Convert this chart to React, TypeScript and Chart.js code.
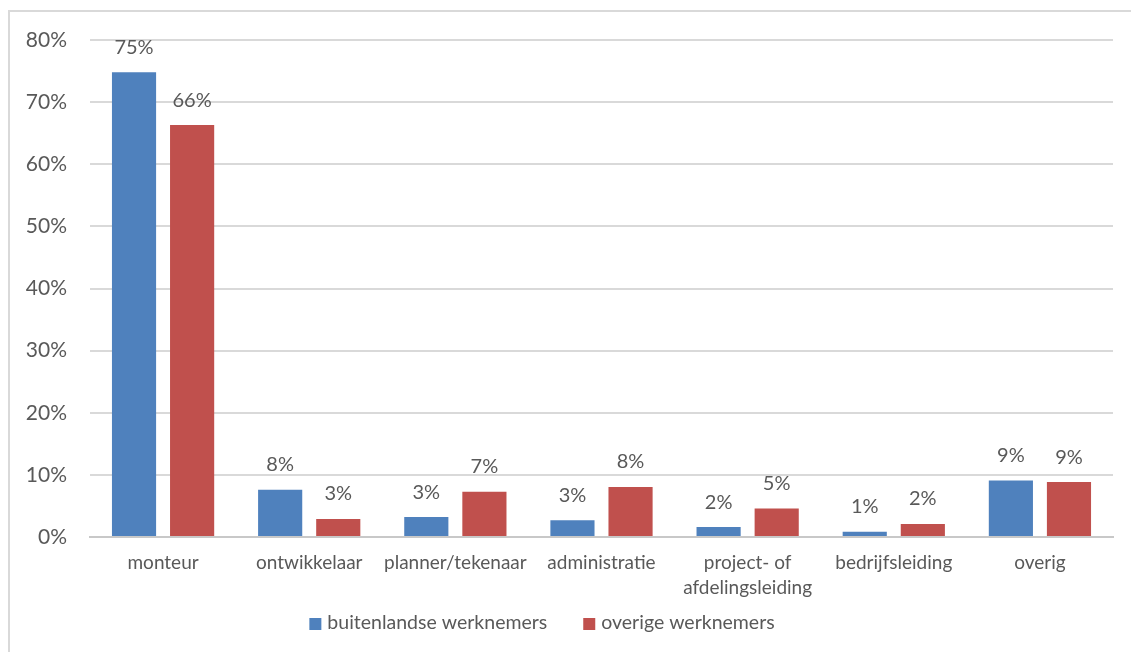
import React, { useEffect, useRef } from "react";
import { Chart, registerables } from "chart.js";

Chart.register(...registerables);

const categories: (string | string[])[] = [
  "monteur",
  "ontwikkelaar",
  "planner/tekenaar",
  "administratie",
  ["project- of", "afdelingsleiding"],
  "bedrijfsleiding",
  "overig",
];
const buitenlandse = [74.8, 7.6, 3.2, 2.7, 1.6, 0.85, 9.1];
const overige = [66.3, 2.9, 7.3, 8.05, 4.6, 2.1, 8.85];
const seriesNames = ["buitenlandse werknemers", "overige werknemers"];
const yTicks = [0, 10, 20, 30, 40, 50, 60, 70, 80];

const FONT = "Lato, sans-serif";
const TEXT = "#595959";

const labelPlugin = {
  id: "barLabels",
  afterDatasetsDraw(chart: any) {
    const ctx = chart.ctx;
    ctx.save();
    ctx.font = `20px ${FONT}`;
    ctx.fillStyle = TEXT;
    ctx.textAlign = "center";
    ctx.textBaseline = "alphabetic";
    chart.data.datasets.forEach((ds: any, di: number) => {
      const meta = chart.getDatasetMeta(di);
      meta.data.forEach((bar: any, i: number) => {
        const v = ds.data[i] as number;
        ctx.fillText(`${Math.round(v)}%`, bar.x, bar.y - 18.5);
      });
    });
    ctx.restore();
  },
};

const legendPlugin = {
  id: "customLegend",
  afterDraw(chart: any) {
    const ctx = chart.ctx;
    ctx.save();
    ctx.font = `19.5px ${FONT}`;
    const box = 12;
    const gapText = 6;
    const gapItem = 36;
    const ds = chart.data.datasets;
    const widths = ds.map((d: any) => ctx.measureText(d.label).width);
    let total = 0;
    widths.forEach((w: number, i: number) => {
      total += box + gapText + w + (i < widths.length - 1 ? gapItem : 0);
    });
    const cx = 532;
    const cy = 611;
    let x = cx - total / 2;
    ds.forEach((d: any, i: number) => {
      ctx.fillStyle = d.backgroundColor;
      ctx.fillRect(x, cy - box / 2 + 1, box, box);
      x += box + gapText;
      ctx.fillStyle = TEXT;
      ctx.textAlign = "left";
      ctx.textBaseline = "middle";
      ctx.fillText(d.label, x, cy);
      x += widths[i] + gapItem;
    });
    ctx.restore();
  },
};

export default function App() {
  const ref = useRef<HTMLCanvasElement | null>(null);

  useEffect(() => {
    if (!ref.current) return;
    const chart = new Chart(ref.current, {
      type: "bar",
      data: {
        labels: categories,
        datasets: [
          {
            label: seriesNames[0],
            data: buitenlandse,
            backgroundColor: "#4f81bd",
            barPercentage: 0.76,
            categoryPercentage: 0.795,
          },
          {
            label: seriesNames[1],
            data: overige,
            backgroundColor: "#c0504d",
            barPercentage: 0.76,
            categoryPercentage: 0.795,
          },
        ],
      },
      options: {
        animation: false,
        responsive: false,
        maintainAspectRatio: false,
        layout: { padding: { left: 0, right: 18, top: 28, bottom: 0 } },
        plugins: {
          legend: { display: false },
          tooltip: { enabled: false },
        },
        scales: {
          x: {
            grid: { display: false, drawTicks: false },
            border: { display: true, color: "#c8c8c8", width: 2 },
            ticks: {
              color: TEXT,
              font: { family: FONT, size: 19, lineHeight: 1.3 },
              padding: 14,
              maxRotation: 0,
              autoSkip: false,
            },
            afterFit(scale: any) {
              scale.height = 115;
            },
          },
          y: {
            min: 0,
            max: 80,
            afterBuildTicks(scale: any) {
              scale.ticks = yTicks.map((v) => ({ value: v }));
            },
            grid: {
              color: "#d9d9d9",
              lineWidth: 2,
              drawTicks: true,
              tickLength: 23,
              tickColor: "rgba(0,0,0,0)",
            },
            border: { display: false },
            ticks: {
              color: TEXT,
              font: { family: FONT, size: 21 },
              padding: 0,
              callback: (v: any) => `${v}%`,
            },
            afterFit(scale: any) {
              scale.width = 80;
            },
          },
        },
      },
      plugins: [labelPlugin, legendPlugin],
    });
    return () => chart.destroy();
  }, []);

  return (
    <div
      style={{
        position: "absolute",
        left: 8,
        top: 10,
        width: 1123,
        height: 642,
        borderLeft: "2px solid #d9d9d9",
        borderTop: "2px solid #d9d9d9",
        boxSizing: "border-box",
        background: "#fff",
      }}
    >
      <canvas ref={ref} width={1121} height={640} style={{ display: "block" }} />
    </div>
  );
}
